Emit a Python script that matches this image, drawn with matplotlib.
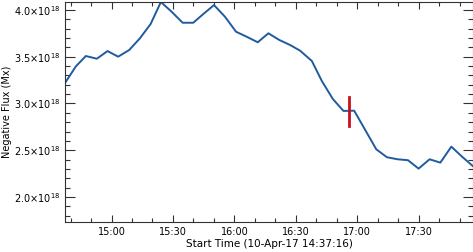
import datetime as dt
import matplotlib
matplotlib.use("Agg")
import matplotlib.pyplot as plt
import matplotlib.dates as mdates
from matplotlib.ticker import MultipleLocator, FuncFormatter

# sample times (10-Apr-17) and negative flux in units of 1e18 Mx
times = ["14:37:16", "14:42:32", "14:47:26", "14:52:49", "14:58:02", "15:03:14",
         "15:08:37", "15:13:51", "15:19:05", "15:24:07", "15:29:21", "15:34:44",
         "15:39:55", "15:44:49", "15:50:03", "15:55:26", "16:00:49", "16:06:03",
         "16:11:26", "16:16:37", "16:22:00", "16:27:14", "16:32:07", "16:37:51",
         "16:42:44", "16:48:07", "16:53:19", "16:58:32", "17:03:55", "17:09:19",
         "17:14:32", "17:19:44", "17:24:49", "17:30:00", "17:35:23", "17:40:37",
         "17:46:00", "17:51:14", "17:56:25"]
flux = [3.219, 3.396, 3.508, 3.479, 3.561, 3.501, 3.572, 3.697, 3.850, 4.086,
        3.982, 3.864, 3.864, 3.957, 4.053, 3.928, 3.768, 3.714, 3.655, 3.751,
        3.679, 3.626, 3.565, 3.455, 3.241, 3.048, 2.920, 2.923, 2.717, 2.510,
        2.425, 2.403, 2.393, 2.303, 2.403, 2.367, 2.538, 2.431, 2.332]

# red marker (flare time)
mark_time = "16:55:57"
mark_range = [2.759, 3.073]

t_start = "14:37:16"
t_end = "17:56:35"
ylim = [1.735, 4.086]


def to_dt(s):
    h, m, sec = [int(v) for v in s.split(":")]
    return dt.datetime(2017, 4, 10, h, m, sec)


tt = [to_dt(s) for s in times]
yy = [v * 1e18 for v in flux]

plt.rcParams["font.family"] = "DejaVu Sans"
plt.rcParams["mathtext.default"] = "regular"

fig = plt.figure(figsize=(4.73, 2.52), dpi=100)
ax = fig.add_axes([65 / 473, 1 - 221.7 / 252, 408 / 473, 219.7 / 252])

ax.plot(tt, yy, color="#1f5b9e", lw=1.4)
ax.plot([to_dt(mark_time)] * 2, [v * 1e18 for v in mark_range], color="#c8101e", lw=2)

ax.set_xlim(to_dt(t_start), to_dt(t_end))
ax.set_ylim(ylim[0] * 1e18, ylim[1] * 1e18)

ax.xaxis.set_major_locator(mdates.MinuteLocator(byminute=[0, 30]))
ax.xaxis.set_minor_locator(mdates.MinuteLocator(byminute=range(0, 60, 10)))
ax.xaxis.set_major_formatter(mdates.DateFormatter("%H:%M"))
ax.yaxis.set_major_locator(MultipleLocator(0.5e18))
ax.yaxis.set_minor_locator(MultipleLocator(0.1e18))
ax.yaxis.set_major_formatter(FuncFormatter(lambda v, p: "%.1f\u00d710$^{18}$" % (v / 1e18)))

ax.tick_params(which="both", direction="in", top=True, right=True, labelsize=7,
               width=0.8, color="#333333")
ax.tick_params(axis="y", which="major", length=7, pad=3)
ax.tick_params(axis="y", which="minor", length=3.5)
ax.tick_params(axis="x", which="major", length=5, pad=4)
ax.tick_params(axis="x", which="minor", length=3)
for s in ax.spines.values():
    s.set_linewidth(0.8)
    s.set_color("#333333")

ax.set_xlabel("Start Time (10-Apr-17 14:37:16)", fontsize=7.5, labelpad=1)
ax.set_ylabel("Negative Flux (Mx)", fontsize=7, labelpad=2)

fig.savefig("out.png", dpi=100)
